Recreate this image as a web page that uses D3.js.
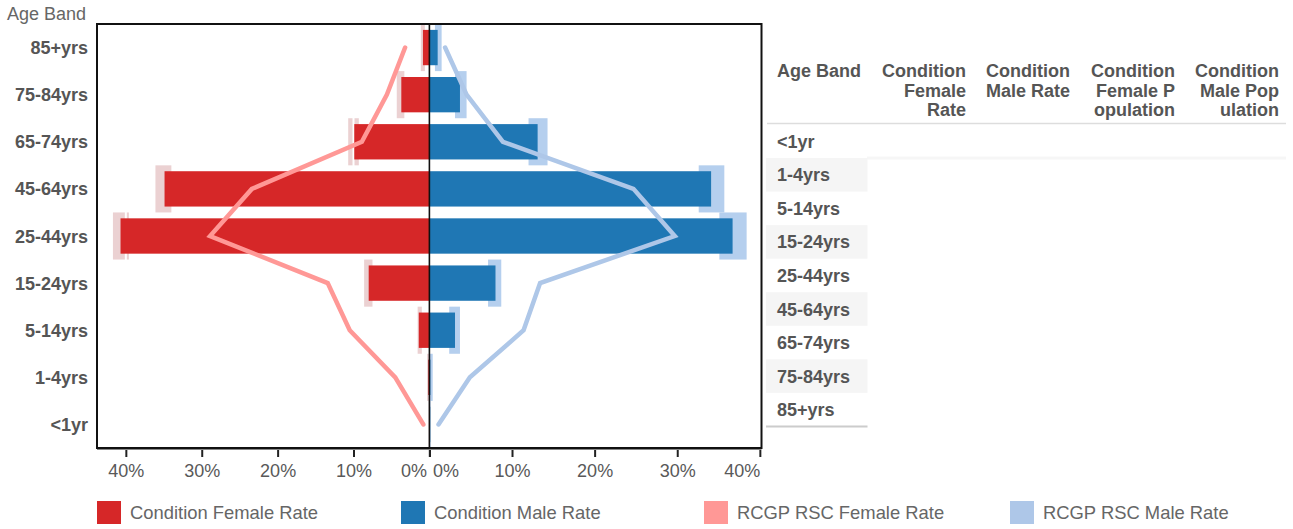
<!DOCTYPE html>
<html>
<head>
<meta charset="utf-8">
<script src="https://cdn.jsdelivr.net/npm/d3@7"></script>
<style>
  html, body { margin: 0; padding: 0; background: #fff; }
  svg { display: block; font-family: "Liberation Sans", Arial, sans-serif; }
</style>
</head>
<body>
<svg id="chart" width="1293" height="529"></svg>
<script>
// ---- data (percent) ----
const categories = ["<1yr", "1-4yrs", "5-14yrs", "15-24yrs", "25-44yrs", "45-64yrs", "65-74yrs", "75-84yrs", "85+yrs"];
const femaleRate = [0.03, 0.15, 1.4, 8.0, 40.7, 34.9, 9.9, 3.7, 0.85];
const maleRate   = [0.1, 0.12, 3.1, 8.0, 36.7, 34.1, 13.1, 3.7, 1.0];
const femaleLow  = [0.0, 0.05, 1.0, 7.5, 39.6, 34.0, 9.3, 3.3, 0.6];
const femaleHigh = [0.1, 0.3, 1.55, 8.6, 41.7, 36.1, 10.7, 4.3, 1.13];
const maleLow    = [0.0, 0.05, 2.4, 7.1, 35.1, 32.6, 12.0, 3.1, 0.67];
const maleHigh   = [0.15, 0.4, 3.7, 8.7, 38.4, 35.7, 14.3, 4.5, 1.48];
const rcgpFemale = [0.8, 4.5, 10.5, 13.4, 28.9, 23.4, 8.9, 5.6, 3.2];
const rcgpMale   = [1.1, 4.9, 11.4, 13.4, 29.7, 24.7, 8.9, 4.5, 1.9];
const tickValues = [0, 10, 20, 30, 40];
const tableHeaders = [["Age Band"], ["Condition", "Female", "Rate"], ["Condition", "Male Rate"], ["Condition", "Female P", "opulation"], ["Condition", "Male Pop", "ulation"]];
const legendLabels = ["Condition Female Rate", "Condition Male Rate", "RCGP RSC Female Rate", "RCGP RSC Male Rate"];
const legendColors = ["#d62728", "#1f77b4", "#ff9896", "#aec7e8"];

(function () {
const svg = d3.select("#chart");
const pTop = 24, pBottom = 448, pLeft = 97, pRight = 761.5, center = 429.4;

const xL = d3.scaleLinear().domain([0, 43.8]).range([center, pLeft]);
const xR = d3.scaleLinear().domain([0, 40.2]).range([center, pRight]);
const y = d3.scaleBand().domain(categories.slice().reverse()).range([pTop, pBottom]).padding(0);
const bw = y.bandwidth();
const barPad = bw * 0.125, barH = bw * 0.75;

const rows = categories.map((c, i) => ({
  c, f: femaleRate[i], m: maleRate[i], fl: femaleLow[i], fh: femaleHigh[i],
  ml: maleLow[i], mh: maleHigh[i], rf: rcgpFemale[i], rm: rcgpMale[i]
}));

// CI rects
svg.append("g").selectAll("rect").data(rows).join("rect")
  .attr("x", d => xL(d.fh)).attr("width", d => Math.max(0, xL(d.fl) - xL(d.fh)))
  .attr("y", d => y(d.c)).attr("height", bw).attr("fill", "#ebd1d2");
svg.append("g").selectAll("rect").data(rows).join("rect")
  .attr("x", d => xR(d.ml)).attr("width", d => Math.max(0, xR(d.mh) - xR(d.ml)))
  .attr("y", d => y(d.c)).attr("height", bw).attr("fill", "#b5cfee");

// white gridlines
svg.append("g").selectAll("line").data(tickValues.filter(v => v > 0)).join("line")
  .attr("x1", d => xL(d)).attr("x2", d => xL(d)).attr("y1", pTop).attr("y2", pBottom)
  .attr("stroke", "#fff").attr("stroke-width", 2);
svg.append("g").selectAll("line").data(tickValues.filter(v => v > 0)).join("line")
  .attr("x1", d => xR(d)).attr("x2", d => xR(d)).attr("y1", pTop).attr("y2", pBottom)
  .attr("stroke", "#fff").attr("stroke-width", 2);

// main bars
svg.append("g").selectAll("rect").data(rows).join("rect")
  .attr("x", d => xL(d.f)).attr("width", d => center - xL(d.f))
  .attr("y", d => y(d.c) + barPad).attr("height", barH).attr("fill", "#d62728");
svg.append("g").selectAll("rect").data(rows).join("rect")
  .attr("x", center).attr("width", d => xR(d.m) - center)
  .attr("y", d => y(d.c) + barPad).attr("height", barH).attr("fill", "#1f77b4");

// RCGP lines
const lineF = d3.line().x(d => xL(d.rf)).y(d => y(d.c) + bw / 2);
const lineM = d3.line().x(d => xR(d.rm)).y(d => y(d.c) + bw / 2);
svg.append("path").datum(rows).attr("d", lineF).attr("fill", "none")
  .attr("stroke", "#ff9896").attr("stroke-width", 4.5).attr("stroke-linecap", "round").attr("stroke-linejoin", "miter");
svg.append("path").datum(rows).attr("d", lineM).attr("fill", "none")
  .attr("stroke", "#aec7e8").attr("stroke-width", 4.5).attr("stroke-linecap", "round").attr("stroke-linejoin", "miter");

// frame and center line
svg.append("rect").attr("x", pLeft).attr("y", pTop).attr("width", pRight - pLeft).attr("height", pBottom - pTop)
  .attr("fill", "none").attr("stroke", "#111").attr("stroke-width", 2);
svg.append("line").attr("x1", pLeft).attr("x2", pRight).attr("y1", pBottom + 0.5).attr("y2", pBottom + 0.5)
  .attr("stroke", "#111").attr("stroke-width", 2);
svg.append("line").attr("x1", center).attr("x2", center).attr("y1", pTop).attr("y2", pBottom)
  .attr("stroke", "#111").attr("stroke-width", 1.6);

// x axes
const axL = svg.append("g").attr("transform", `translate(0,${pBottom + 2})`)
  .call(d3.axisBottom(xL).tickValues(tickValues).tickSize(7).tickPadding(7).tickFormat(d => d + "%"));
const axR = svg.append("g").attr("transform", `translate(0,${pBottom + 2})`)
  .call(d3.axisBottom(xR).tickValues(tickValues).tickSize(7).tickPadding(7).tickFormat(d => d + "%"));
[axL, axR].forEach(ax => {
  ax.select(".domain").remove();
  ax.selectAll(".tick line").attr("stroke", "#222").attr("stroke-width", 2);
  ax.selectAll(".tick text").attr("fill", "#595959").attr("font-size", 18)
    .attr("font-family", "'Liberation Sans', Arial, sans-serif");
});
axL.selectAll(".tick text").filter(d => d === 0).attr("text-anchor", "end").attr("dx", -3);
axR.selectAll(".tick text").filter(d => d === 0).attr("text-anchor", "start").attr("dx", 3);
axR.selectAll(".tick text").filter(d => d === 40).attr("text-anchor", "end").attr("dx", 0);

// y labels
svg.append("g").selectAll("text").data(categories).join("text")
  .attr("x", 88).attr("y", d => y(d) + bw / 2 + 6.5)
  .attr("text-anchor", "end").attr("font-size", 18).attr("font-weight", "bold").attr("fill", "#555")
  .text(d => d);
svg.append("text").attr("x", 7).attr("y", 20).attr("font-size", 18).attr("fill", "#666").text("Age Band");

// table
const tRight = [null, 966, 1070, 1175, 1279];
const tg = svg.append("g");
tableHeaders.forEach((lines, ci) => {
  const t = tg.append("text").attr("font-size", 18).attr("font-weight", "bold").attr("fill", "#555")
    .attr("text-anchor", ci === 0 ? "start" : "end");
  lines.forEach((ln, li) => {
    t.append("tspan").attr("x", ci === 0 ? 777 : tRight[ci]).attr("y", 77 + li * 19.5).text(ln);
  });
});
tg.append("line").attr("x1", 767).attr("x2", 1286).attr("y1", 123.5).attr("y2", 123.5)
  .attr("stroke", "#ddd").attr("stroke-width", 1.5);
const rowTop = 124.5, rowH = 33.55;
tg.append("rect").attr("x", 867).attr("y", rowTop + rowH - 1.5).attr("width", 419).attr("height", 3).attr("fill", "#f6f6f6");
categories.forEach((c, i) => {
  if (i % 2 === 1) {
    tg.append("rect").attr("x", 766).attr("y", rowTop + i * rowH).attr("width", 101.5).attr("height", rowH).attr("fill", "#f5f5f5");
  }
  tg.append("text").attr("x", 777).attr("y", rowTop + i * rowH + rowH / 2 + 6.5)
    .attr("font-size", 18).attr("font-weight", "bold").attr("fill", "#555").text(c);
});
tg.append("line").attr("x1", 766).attr("x2", 867.5).attr("y1", rowTop + 9 * rowH).attr("y2", rowTop + 9 * rowH)
  .attr("stroke", "#ccc").attr("stroke-width", 2);

// legend
const lx = [97, 401, 704, 1010];
const lg = svg.append("g");
legendLabels.forEach((l, i) => {
  lg.append("rect").attr("x", lx[i]).attr("y", 501).attr("width", 24).attr("height", 23).attr("fill", legendColors[i]);
  lg.append("text").attr("x", lx[i] + 33).attr("y", 519).attr("font-size", 18.4).attr("fill", "#666").text(l);
});
})();
</script>
</body>
</html>
